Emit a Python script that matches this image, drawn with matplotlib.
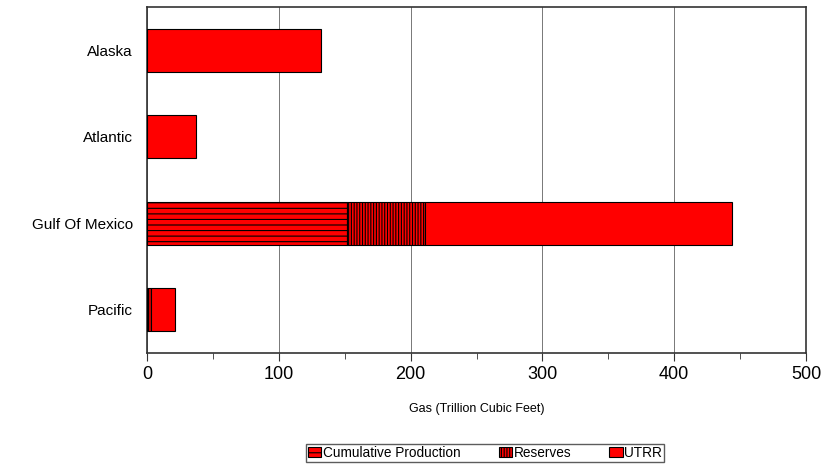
import matplotlib
matplotlib.use("Agg")
import matplotlib.pyplot as plt
import numpy as np

plt.rcParams['font.family'] = ['Liberation Sans', 'DejaVu Sans']
plt.rcParams['hatch.color'] = '#5a0000'
plt.rcParams['hatch.linewidth'] = 0.8

# data (trillion cubic feet)
regions = ['Alaska', 'Atlantic', 'Gulf Of Mexico', 'Pacific']
cumulative = [0, 0, 152, 1]
reserves = [0, 0, 59, 2]
utrr = [132, 37, 233, 18]
series_names = ['Cumulative Production', 'Reserves', 'UTRR']

fig = plt.figure(figsize=(8.29, 4.66), dpi=100)
ax = fig.add_axes([0.1773, 0.2425, 0.795, 0.7425])

y = np.arange(len(regions))
h = 0.5
left = np.zeros(len(regions))
hatches = ['---', '||||||', None]
for vals, name, hat in zip([cumulative, reserves, utrr], series_names, hatches):
    ax.barh(y, vals, height=h, left=left, color='#ff0000', edgecolor='black',
            linewidth=0.8, hatch=hat, label=name, zorder=3)
    left = left + np.array(vals)

ax.set_ylim(len(regions) - 0.5, -0.5)
ax.set_yticks(y)
ax.set_yticklabels(regions, fontsize=11)
ax.tick_params(axis='y', length=0, pad=10)

ax.set_xlim(0, 500)
ax.set_xticks([0, 100, 200, 300, 400, 500])
ax.set_xticks([50, 150, 250, 350, 450], minor=True)
ax.tick_params(axis='x', which='major', length=6, labelsize=13, color='#333333')
ax.tick_params(axis='x', which='minor', length=4, color='#333333')
ax.grid(axis='x', color='#777777', linewidth=0.7, zorder=0)
for s in ax.spines.values():
    s.set_color('#333333')
    s.set_linewidth(1.2)

ax.set_xlabel('Gas (Trillion Cubic Feet)', fontsize=9, labelpad=14)

fig.legend(loc='center', bbox_to_anchor=(0.585, 0.028), ncol=3, fontsize=9.8,
           frameon=True, fancybox=False, edgecolor='#333333',
           handlelength=1.0, handleheight=0.7, handletextpad=0.1,
           columnspacing=2.8, borderpad=0.15)

fig.savefig('out.png', dpi=100)
